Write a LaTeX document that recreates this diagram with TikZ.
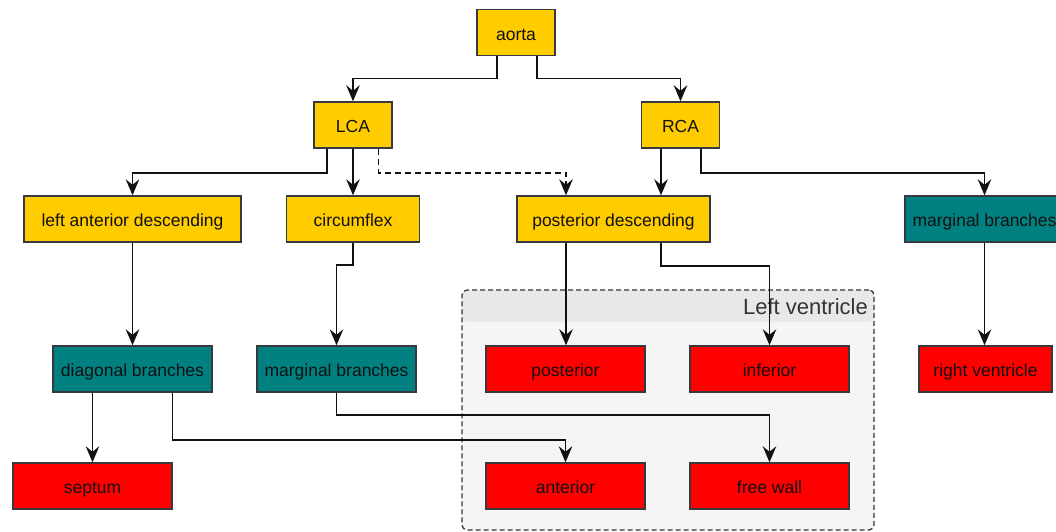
\documentclass[tikz,border=0pt]{standalone}
\usepackage{fontspec}
\setmainfont{Liberation Sans}
\usetikzlibrary{arrows.meta,calc}
\definecolor{cyel}{HTML}{FFCC00}
\definecolor{cteal}{HTML}{008080}
\definecolor{cred}{HTML}{FF0000}
\definecolor{cline}{HTML}{111111}
\definecolor{cborder}{HTML}{36393D}
\definecolor{cbody}{HTML}{F5F5F5}
\definecolor{chdr}{HTML}{E8E8E8}
\definecolor{ctxt}{HTML}{333333}
\tikzset{
  box/.style={draw=cborder, line width=1.4pt, inner sep=0pt, minimum height=46pt,
    font=\fontsize{17.5}{20}\selectfont, text=cline, text height=19.4pt, text depth=4pt},
  ybox/.style={box, fill=cyel},
  tbox/.style={box, fill=cteal},
  rbox/.style={box, fill=cred, minimum width=159pt},
  edge/.style={draw=cline, line width=1.6pt,
    -{Stealth[length=16pt,width=13.5pt,inset=5.5pt]}},
  container/.style={draw=ctxt, line width=1.3pt, dash pattern=on 5pt off 3pt,
    rounded corners=5pt, fill=cbody, inner sep=0pt,
    path picture={\fill[chdr] (path picture bounding box.north west) rectangle
      ([yshift=-32pt]path picture bounding box.north east);}},
}
\begin{document}
\begin{tikzpicture}[x=1pt,y=-1pt]
\useasboundingbox (0,0) rectangle (1056,532);
% container
\node[container, minimum width=412pt, minimum height=240pt] (lv) at (668,410) {};
\node[anchor=base east, font=\fontsize{22}{26}\selectfont, text=ctxt, inner sep=0pt] (lvlabel) at (868,314) {Left ventricle};
% nodes
\node[ybox, minimum width=78pt] (aorta) at (516,32.5) {aorta};
\node[ybox, minimum width=78pt] (LCA) at (353,125) {LCA};
\node[ybox, minimum width=78pt] (RCA) at (680.5,125) {RCA};
\node[ybox, minimum width=217pt] (LAD) at (132.5,219) {left anterior descending};
\node[ybox, minimum width=133pt] (circ) at (353,219) {circumflex};
\node[ybox, minimum width=193pt] (PD) at (613.5,219) {posterior descending};
\node[tbox, minimum width=159pt] (MBR) at (984.5,219) {marginal branches};
\node[tbox, minimum width=159pt] (diag) at (132.5,369) {diagonal branches};
\node[tbox, minimum width=159pt] (MBM) at (336.5,369) {marginal branches};
\node[rbox] (posterior) at (565.5,369) {posterior};
\node[rbox] (inferior) at (769.5,369) {inferior};
\node[rbox, minimum width=133pt] (RV) at (985.5,369) {right ventricle};
\node[rbox] (septum) at (92.5,486) {septum};
\node[rbox] (anterior) at (565.5,486) {anterior};
\node[rbox] (freewall) at (769.5,486) {free wall};
% edges
\draw[edge] ([xshift=-19pt]aorta.south) -- ++(0,22.5) -| (LCA.north);
\draw[edge] ([xshift=21pt]aorta.south) -- ++(0,22.5) -| (RCA.north);
\draw[edge] ([xshift=-26pt]LCA.south) -- ++(0,24) -| (LAD.north);
\draw[edge] (LCA.south) -- (circ.north);
\draw[edge, dash pattern=on 6pt off 4pt] ([xshift=25.5pt]LCA.south) -- ++(0,24) -| ([xshift=-47.5pt]PD.north);
\draw[edge] ([xshift=-19.5pt]RCA.south) -- ([xshift=-19.5pt]RCA.south |- PD.north);
\draw[edge] ([xshift=20.5pt]RCA.south) -- ++(0,24) -| (MBR.north);
\draw[edge] (LAD.south) -- (diag.north);
\draw[edge] (circ.south) -- ++(0,22) -| (MBM.north);
\draw[edge] ([xshift=-47.5pt]PD.south) -- ([xshift=-47.5pt]PD.south |- posterior.north);
\draw[edge] ([xshift=47.5pt]PD.south) -- ++(0,23) -| (inferior.north);
\draw[edge] (MBR.south) -- (MBR.south |- RV.north);
\draw[edge] ([xshift=-40pt]diag.south) -- ([xshift=-40pt]diag.south |- septum.north);
\draw[edge] ([xshift=40pt]diag.south) -- ++(0,47) -| (anterior.north);
\draw[edge] (MBM.south) -- ++(0,22) -| (freewall.north);
\end{tikzpicture}
\end{document}
